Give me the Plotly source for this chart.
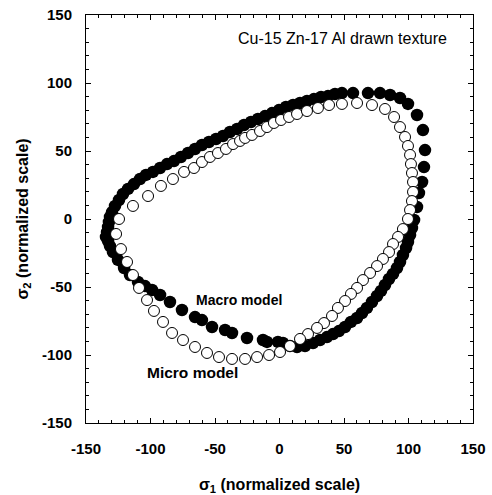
import plotly.graph_objects as go

# Micro model (open circles)
micro_x = [-126.7, -124.4, -113.6, -101.9, -91.9, -82.6, -74.0, -66.3, -60.1, -53.9,
           -47.7, -41.5, -36.0, -30.6, -26.7, -21.3, -15.1, -9.7, -4.3, 1.2,
           7.4, 13.6, 21.3, 29.8, 38.4, 48.4, 60.1, 71.7, 81.8, 88.8,
           93.4, 97.3, 99.6, 101.2, 101.9, 102.7, 103.5, 103.5, 102.7, 101.2,
           99.6, 95.7, 91.9, 88.0, 84.9, 80.2, 75.6, 70.2, 64.7, 60.1,
           55.4, 50.8, 45.3, 40.7, 34.5, 29.1, 22.1, 15.9, 8.1, 0.4,
           -8.1, -17.4, -26.7, -36.8, -46.9, -56.2, -65.5, -74.8, -83.3, -90.3,
           -97.3, -102.7, -108.9, -113.6, -118.2, -122.9]
micro_y = [-11.0, 0.0, 9.6, 16.9, 24.3, 29.4, 34.6, 37.5, 41.9, 45.6,
           48.5, 51.5, 55.1, 57.4, 59.6, 61.8, 64.7, 67.6, 70.6, 72.8,
           75.0, 77.2, 79.4, 81.6, 83.8, 84.6, 85.3, 83.8, 80.9, 75.0,
           67.6, 60.3, 53.7, 47.1, 40.4, 33.8, 27.2, 19.9, 13.2, 6.6,
           0.0, -7.4, -13.2, -18.4, -24.3, -29.4, -34.6, -39.7, -44.9, -50.7,
           -55.1, -60.3, -65.4, -71.3, -76.5, -80.1, -84.6, -88.2, -93.4, -97.8,
           -100.0, -101.5, -102.9, -102.9, -101.5, -98.5, -94.1, -89.0, -83.8, -75.7,
           -67.6, -59.6, -50.7, -41.2, -31.6, -22.1]

# Macro model (filled circles)
macro_x = [-134.5, -133.7, -132.9, -132.2, -131.4, -129.8, -127.5, -124.4, -121.3, -117.4,
           -112.8, -108.1, -103.5, -98.1, -92.6, -87.2, -81.8, -76.4, -70.9, -65.5,
           -60.1, -54.7, -49.2, -43.8, -38.4, -32.9, -27.5, -22.1, -16.7, -11.2,
           -5.8, -0.4, 5.0, 10.5, 15.9, 21.3, 26.7, 32.2, 37.6, 43.0,
           48.4, 57.0, 68.6, 77.9, 85.7, 93.4, 99.6, 106.6, 111.2, 112.8,
           112.0, 110.5, 108.1, 106.6, 104.3, 102.7, 101.2, 99.6, 98.1, 95.7,
           93.4, 91.1, 88.0, 84.9, 81.8, 78.7, 75.6, 71.7, 67.8, 64.0,
           60.1, 55.4, 50.8, 46.1, 41.5, 36.8, 31.4, 26.0, 19.8, 13.6,
           8.1, 2.7, -1.2, -9.7, -12.8, -25.2, -36.8, -42.2, -52.3, -60.1,
           -65.5, -75.6, -84.9, -92.6, -98.8, -104.3, -109.7, -115.9, -120.5, -125.2,
           -129.1, -131.4, -132.9]
macro_y = [-13.2, -9.6, -5.9, -2.2, 1.5, 5.1, 9.6, 14.0, 18.4, 22.1,
           25.7, 29.4, 32.4, 34.6, 37.5, 40.4, 42.6, 45.6, 48.5, 51.5,
           54.4, 56.6, 58.8, 61.0, 64.0, 66.2, 69.1, 71.3, 73.5, 75.7,
           77.9, 80.1, 82.4, 83.8, 85.3, 86.8, 88.2, 89.7, 90.4, 91.9,
           92.6, 92.6, 92.6, 92.6, 91.2, 89.0, 84.6, 76.5, 65.4, 50.7,
           38.2, 27.2, 19.1, 8.8, -0.7, -6.6, -11.8, -16.9, -21.3, -26.5,
           -31.6, -36.0, -40.4, -44.1, -48.5, -52.9, -56.6, -61.0, -65.4, -69.1,
           -72.8, -75.7, -79.4, -82.4, -84.6, -86.8, -89.0, -91.2, -93.4, -94.1,
           -93.4, -91.2, -90.4, -90.4, -89.0, -87.5, -83.8, -81.6, -79.4, -74.3,
           -72.1, -66.9, -61.0, -55.9, -52.2, -49.3, -46.3, -41.2, -36.0, -30.1,
           -24.3, -19.9, -16.2]

tick_vals = [-150, -100, -50, 0, 50, 100, 150]
tick_text = ["-150", "-100", "-50", "0", "50", "100", "150"]

FONT = "Liberation Sans, Arial, sans-serif"

fig = go.Figure()
fig.add_trace(go.Scatter(
    x=macro_x, y=macro_y, mode="markers", name="Macro model",
    marker=dict(size=12.5, color="black", line=dict(width=0)),
))
fig.add_trace(go.Scatter(
    x=micro_x, y=micro_y, mode="markers", name="Micro model",
    marker=dict(size=11, color="white", line=dict(width=1, color="black")),
))

axis_common = dict(
    range=[-150, 150], tickvals=tick_vals, ticktext=tick_text,
    ticks="inside", ticklen=5, tickwidth=1, tickcolor="black",
    minor=dict(dtick=10, ticks="inside", ticklen=3, tickwidth=1, tickcolor="black"),
    showline=True, linecolor="black", linewidth=1, mirror="ticks",
    showgrid=False, zeroline=False, automargin=False,
    tickfont=dict(family=FONT, size=15, color="black", weight="bold"),
)

fig.update_xaxes(**axis_common, ticklabelstandoff=12,
                 title=dict(text="σ<sub>1</sub> (normalized scale)",
                            font=dict(family=FONT, size=16, color="black", weight="bold"),
                            standoff=27))
fig.update_yaxes(**axis_common, ticklabelstandoff=10,
                 title=dict(text="σ<sub>2</sub> (normalized scale)",
                            font=dict(family=FONT, size=16, color="black", weight="bold"),
                            standoff=9))

fig.add_annotation(x=131.4, y=132.4, xref="x", yref="y", text="Cu-15 Zn-17 Al drawn texture",
                   showarrow=False, xanchor="right", yanchor="middle",
                   font=dict(family=FONT, size=16, color="black"))
fig.add_annotation(x=-31.4, y=-59.6, xref="x", yref="y", text="Macro model",
                   showarrow=False, xanchor="center", yanchor="middle",
                   font=dict(family=FONT, size=14, color="black", weight="bold"))
fig.add_annotation(x=-67.1, y=-113.0, xref="x", yref="y", text="Micro model",
                   showarrow=False, xanchor="center", yanchor="middle",
                   font=dict(family=FONT, size=15.5, color="black", weight="bold"))

fig.update_layout(
    width=492, height=495,
    margin=dict(l=86, r=19, t=15, b=72),
    paper_bgcolor="white", plot_bgcolor="white",
    showlegend=False,
)

fig.write_html("out.html", config={"displayModeBar": False},
               post_script="document.body.style.margin='0';document.body.style.overflow='hidden';")
